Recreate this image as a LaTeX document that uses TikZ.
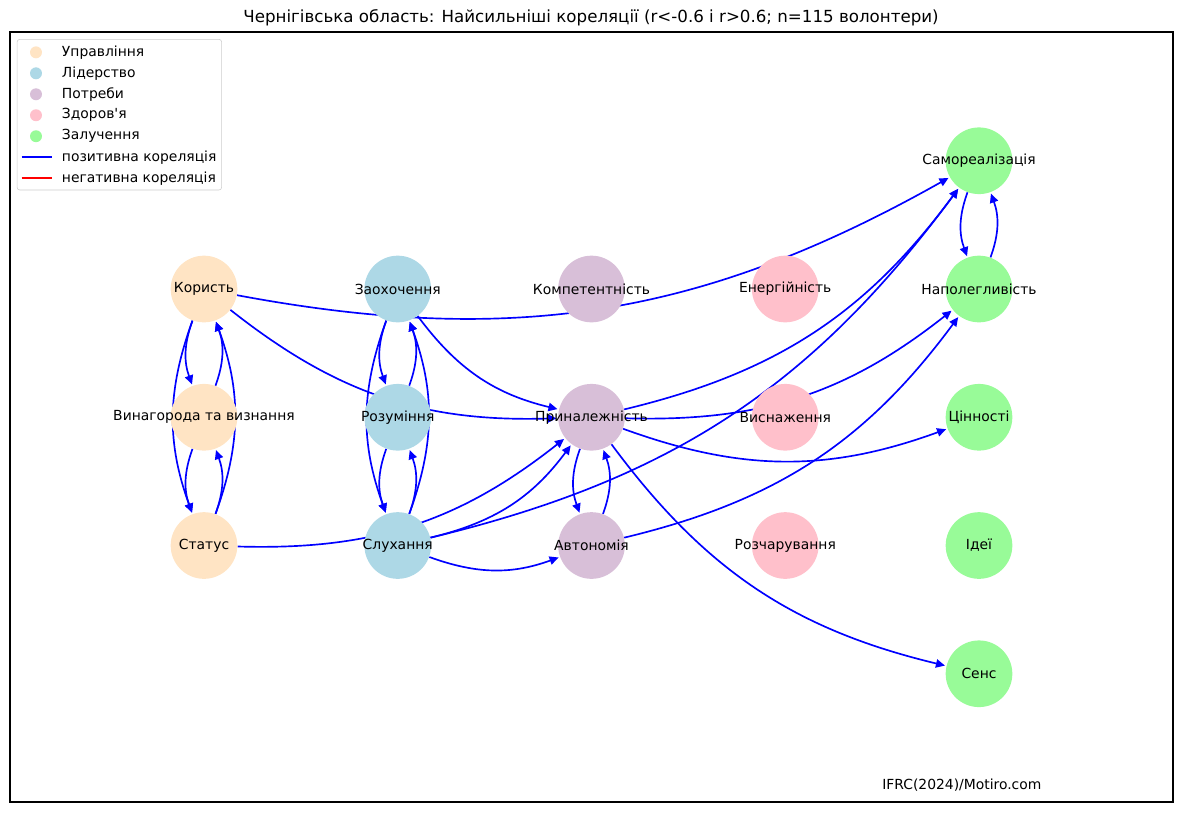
\documentclass[tikz,border=0pt]{standalone}
\usepackage{fontspec}
\setmainfont{DejaVu Sans}
\usepackage{xcolor}
\usepackage{tikz}
\usetikzlibrary{arrows.meta,backgrounds}
\definecolor{CDbisque}{RGB}{255,228,196}
\definecolor{CDlblue}{RGB}{173,216,230}
\definecolor{CDthistle}{RGB}{216,191,216}
\definecolor{CDpink}{RGB}{255,192,203}
\definecolor{CDgreen}{RGB}{152,251,152}
\tikzset{CDnode/.style={shape=circle,minimum size=48pt,inner sep=0pt}}
\tikzset{CDedge/.style={-{Triangle[length=6.5pt,width=6pt]},blue,line width=1.2pt,bend right=20,shorten >=1pt}}
\tikzset{CDleg/.style={anchor=west,inner sep=0pt}}

\begin{document}
\begin{tikzpicture}[x=139.5pt,y=92.34pt]
	\useasboundingbox (-146.88pt,-376.56pt) rectangle (704.16pt,208.08pt);
	\draw[line width=0.8pt] (-139.68pt,-369.36pt) rectangle (697.68pt,185.04pt);
	\node[font=\fontsize{12}{14}\selectfont] (title) at (278.64pt,195.12pt) {Чернігівська область: Найсильніші кореляції (r<-0.6 і r>0.6; n=115 волонтери)};
	%
	\node[CDnode,fill=CDbisque,label=center:Користь] (Kor) at (0,0) {};
	\node[CDnode,fill=CDbisque,label={center:Винагорода та визнання}] (Vyn) at (0,-1) {};
	\node[CDnode,fill=CDbisque,label=center:Статус] (Stat) at (0,-2) {};
	\node[CDnode,fill=CDlblue,label=center:Заохочення] (Zaoh) at (1,0) {};
	\node[CDnode,fill=CDlblue,label=center:Розуміння] (Roz) at (1,-1) {};
	\node[CDnode,fill=CDlblue,label=center:Слухання] (Sluh) at (1,-2) {};
	\node[CDnode,fill=CDthistle,label=center:Компетентність] (Komp) at (2,0) {};
	\node[CDnode,fill=CDthistle,label=center:Приналежність] (Prin) at (2,-1) {};
	\node[CDnode,fill=CDthistle,label=center:Автономія] (Avt) at (2,-2) {};
	\node[CDnode,fill=CDpink,label=center:Енергійність] (Ener) at (3,0) {};
	\node[CDnode,fill=CDpink,label=center:Виснаження] (Vysn) at (3,-1) {};
	\node[CDnode,fill=CDpink,label=center:Розчарування] (Rozch) at (3,-2) {};
	\node[CDnode,fill=CDgreen,label=center:Самореалізація] (Samo) at (4,1) {};
	\node[CDnode,fill=CDgreen,label=center:Наполегливість] (Napol) at (4,0) {};
	\node[CDnode,fill=CDgreen,label=center:Цінності] (Tsin) at (4,-1) {};
	\node[CDnode,fill=CDgreen,label=center:Ідеї] (Idei) at (4,-2) {};
	\node[CDnode,fill=CDgreen,label=center:Сенс] (Sens) at (4,-3) {};
	%
	\begin{pgfonlayer}{background}
	\path[CDedge]
	(Kor) edge (Vyn)
	(Vyn) edge (Kor)
	(Kor) edge (Stat)
	(Stat) edge (Kor)
	(Vyn) edge (Stat)
	(Stat) edge (Vyn)
	(Kor) edge (Samo)
	(Kor) edge (Prin)
	(Zaoh) edge (Roz)
	(Roz) edge (Zaoh)
	(Zaoh) edge (Sluh)
	(Sluh) edge (Zaoh)
	(Roz) edge (Sluh)
	(Sluh) edge (Roz)
	(Zaoh) edge (Prin)
	(Stat) edge (Prin)
	(Sluh) edge (Prin)
	(Sluh) edge (Samo)
	(Sluh) edge (Avt)
	(Prin) edge (Samo)
	(Prin) edge (Napol)
	(Prin) edge (Tsin)
	(Prin) edge (Sens)
	(Prin) edge (Avt)
	(Avt) edge (Prin)
	(Avt) edge (Napol)
	(Samo) edge (Napol)
	(Napol) edge (Samo);
	\end{pgfonlayer}
	%
	\draw[rounded corners=2pt,draw=black!20,fill=white] (-134.6pt,71.28pt) rectangle (12.74pt,179.78pt);
	\fill[CDbisque] (-120.96pt,170.4pt) circle (4.3pt);
	\fill[CDlblue] (-120.96pt,155.3pt) circle (4.3pt);
	\fill[CDthistle] (-120.96pt,140.2pt) circle (4.3pt);
	\fill[CDpink] (-120.96pt,125.1pt) circle (4.3pt);
	\fill[CDgreen] (-120.96pt,110pt) circle (4.3pt);
	\draw[blue,line width=1.8pt] (-131.26pt,94.9pt) -- (-109.66pt,94.9pt);
	\draw[red,line width=1.8pt] (-131.26pt,79.8pt) -- (-109.66pt,79.8pt);
	\node[CDleg] (leg1) at (-102.46pt,170.4pt) {Управління};
	\node[CDleg] (leg2) at (-102.46pt,155.3pt) {Лідерство};
	\node[CDleg] (leg3) at (-102.46pt,140.2pt) {Потреби};
	\node[CDleg] (leg4) at (-102.46pt,125.1pt) {Здоров\textquotesingle я};
	\node[CDleg] (leg5) at (-102.46pt,110pt) {Залучення};
	\node[CDleg] (leg6) at (-102.46pt,94.9pt) {позитивна кореляція};
	\node[CDleg] (leg7) at (-102.46pt,79.8pt) {негативна кореляція};
	%
	\node[CDleg] (credit) at (488.16pt,-357.12pt) {IFRC(2024)/Motiro.com};
\end{tikzpicture}
\end{document}
